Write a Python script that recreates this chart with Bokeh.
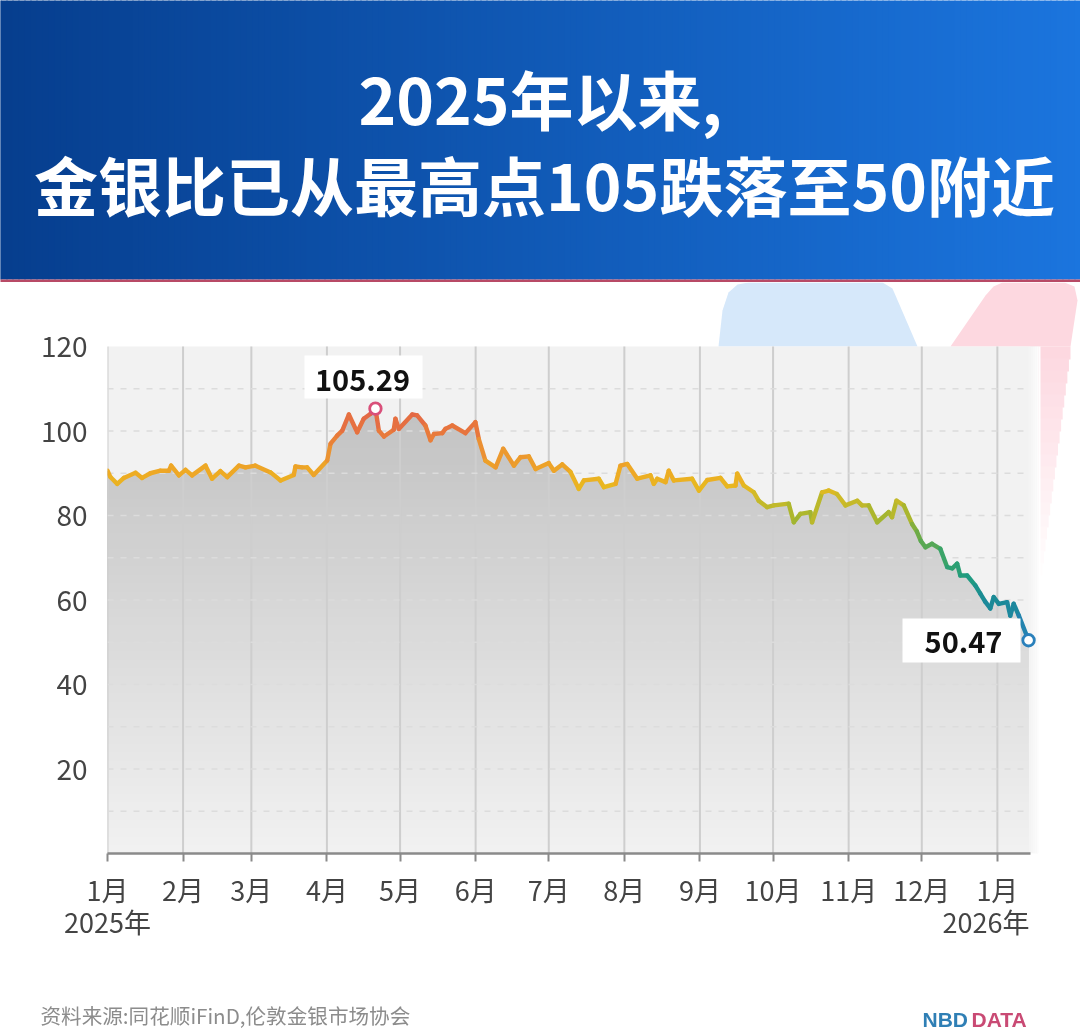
from bokeh.plotting import figure
from bokeh.models import FixedTicker, Range1d
from bokeh.embed import file_html
from bokeh.resources import INLINE

FONT = "Noto Sans CJK SC"

# ---------- data ----------
month_days = [0, 31, 59, 90, 120, 151, 181, 212, 243, 273, 304, 334, 365]
month_labels = ["1月", "2月", "3月", "4月", "5月", "6月", "7月", "8月", "9月", "10月", "11月", "12月", "1月"]
y_ticks = [20, 40, 60, 80, 100, 120]
y_dashes = [10, 20, 30, 40, 50, 60, 70, 80, 90, 100, 110]

days = [0, 1.2, 4, 6.7, 11.5, 14.2, 17.6, 21.7, 25.2, 26.1, 29.3, 32, 34.7, 40.2, 42.9, 46.3, 49.1,
        53.9, 56.6, 60.7, 66.9, 71, 76.4, 77.1, 79.8, 81.9, 84.6, 90.1, 91.5, 94.2, 96.3, 99, 102.4,
        105.1, 107.9, 109.9, 111.3, 113.4, 117.4, 118.1, 119.5, 125, 127, 130.4, 132.5, 133.9, 137.3,
        138.6, 141.4, 146.8, 150.9, 152.3, 155, 159.2, 162.3, 166.7, 169.4, 172.8, 175.6, 181, 183.1,
        186.5, 189.9, 193.3, 195.4, 201.5, 203.6, 208.4, 210.4, 213.2, 217.3, 222.7, 224.1, 225.5,
        228.9, 230.2, 232.3, 239.8, 242.6, 246, 251.4, 254.2, 257.6, 258.3, 261, 265.1, 267.1, 270.5,
        273.3, 279.4, 281.5, 284.2, 288.3, 289, 293.1, 295.8, 299.2, 302.7, 307.5, 309.5, 312.2, 315.7,
        320.4, 321.8, 323.6, 326.6, 330, 332, 333.6, 335.5, 338.2, 341.6, 344.4, 346.5, 348.5, 349.8,
        352.6, 356, 358, 360, 362.1, 363.5, 365.6, 369, 370.3, 371.7, 373.8, 377.8]
ratio = [90.6, 89.1, 87.5, 88.9, 90.1, 88.9, 90.0, 90.6, 90.6, 91.8, 89.5, 90.8, 89.5, 91.8, 88.7, 90.5, 89.1,
         91.8, 91.4, 91.8, 90.2, 88.3, 89.6, 91.6, 91.4, 91.4, 89.6, 93.0, 97.0, 98.9, 100.1, 103.9, 99.7,
         102.9, 104.1, 105.29, 100.1, 98.7, 100.3, 102.9, 100.5, 103.9, 103.7, 101.3, 97.8, 99.3, 99.5,
         100.5, 101.3, 99.5, 102.1, 98.1, 93.0, 91.4, 95.8, 91.8, 93.8, 94.0, 91.0, 92.4, 90.6,
         92.1, 90.3, 86.3, 88.3, 88.7, 86.7, 87.5, 91.8, 92.2, 88.7, 89.5, 87.5, 88.7,
         87.9, 90.6, 88.3, 88.7, 85.9, 88.4, 88.9, 86.9, 87.1, 89.9, 87.1, 85.5, 83.5, 82.0,
         82.4, 82.8, 78.4, 80.4, 80.8, 78.4, 85.5, 85.9, 85.1, 82.4, 83.5, 82.4, 82.4, 78.4,
         80.8, 79.6, 83.5, 82.4, 78.0, 76.2, 74.0, 72.5, 73.3, 72.1, 67.8, 67.5, 68.6, 65.8,
         65.8, 63.4, 61.5, 59.6, 58.0, 60.7, 59.1, 59.5, 56.3, 59.1, 56.3, 50.47]
peak_label = "105.29"
last_label = "50.47"
title_lines = ["2025年以来,", "金银比已从最高点105跌落至50附近"]
source_text = "资料来源:同花顺iFinD,伦敦金银市场协会"

# value -> line colour stops
stops = [(50, (42, 128, 187)), (55, (32, 133, 168)), (60, (26, 138, 149)), (65, (31, 155, 128)),
         (70, (58, 163, 104)), (75, (108, 171, 72)), (80, (168, 182, 46)), (84, (207, 186, 40)),
         (87, (232, 184, 32)), (90, (238, 170, 36)), (95, (235, 147, 50)), (100, (232, 119, 60)),
         (106, (224, 96, 76))]


def val_colour(v):
    if v <= stops[0][0]:
        return "#%02x%02x%02x" % stops[0][1]
    for (a, ca), (b, cb) in zip(stops, stops[1:]):
        if a <= v <= b:
            t = (v - a) / (b - a)
            return "#%02x%02x%02x" % tuple(round(ca[i] + t * (cb[i] - ca[i])) for i in range(3))
    return "#%02x%02x%02x" % stops[-1][1]


def mix(c1, c2, t):
    return "#%02x%02x%02x" % tuple(round(c1[i] + t * (c2[i] - c1[i])) for i in range(3))


def placed(top):
    return {"position": "fixed", "left": "0", "top": f"{top}px"}


# ---------- header ----------
W = 1080
header = figure(width=W, height=282, toolbar_location=None, output_backend="svg",
                x_range=Range1d(0, W), y_range=Range1d(282, 0), min_border=0,
                x_axis_type=None, y_axis_type=None, outline_line_color=None, styles=placed(0))
header.grid.visible = False
strip = 6
xs_l = list(range(-6, W + 6, strip))
header.quad(left=xs_l, right=[x + strip + 1 for x in xs_l], top=-6, bottom=279,
            fill_color=[mix((6, 62, 142), (27, 117, 222), max(x, 0) / W) for x in xs_l], line_color=None)
header.quad(left=-6, right=W + 6, top=279, bottom=288, fill_color="#b84a66", line_color=None)
header.text(x=[540, 544], y=[96, 182], text=title_lines, text_color="white",
            text_font={"value": FONT}, text_font_style="bold", text_font_size="64px",
            text_align="center", text_baseline="middle")

# ---------- chart ----------
PX_DAY = 2.438
PX_VAL = 4.225
X0, Y0 = 107, 853
CHART_BOTTOM = 915
FOOTER_TOP = 895


def dx(px):
    return (px - X0) / PX_DAY


def dy(py):
    return (Y0 - py) / PX_VAL


p = figure(width=W, height=CHART_BOTTOM - 282, toolbar_location=None, output_backend="svg",
           x_range=Range1d(0, dx(W)), y_range=Range1d(0, dy(282)),
           min_border_left=X0, min_border_right=0, min_border_top=0, min_border_bottom=CHART_BOTTOM - Y0,
           outline_line_color=None, background_fill_color="white", border_fill_color=None, styles=placed(282))
p.grid.visible = False

# decorative shapes behind the panel
p.patch(x=[dx(v) for v in [718, 722, 728, 737, 748, 882, 892, 917]],
        y=[dy(v) for v in [346, 310, 292, 284, 282, 282, 288, 346]],
        fill_color="#d6e8fa", line_color=None, level="image")
p.patch(x=[dx(v) for v in [950, 985, 993, 1002, 1064, 1074, 1077, 1070]],
        y=[dy(v) for v in [346, 295, 286, 282, 282, 286, 300, 346]],
        fill_color="#fdd8e0", line_color=None, level="image")
for k, py in enumerate(range(346, 575, 12)):
    right = 1070 - (py - 346) * 0.13
    p.quad(left=dx(1030), right=dx(right), top=dy(py), bottom=dy(py + 13),
           fill_color=mix((253, 216, 224), (255, 255, 255), k / 19), line_color=None, level="image")

# panel
p.quad(left=0, right=dx(1038), top=120, bottom=0, fill_color="#f2f2f2", line_color=None, level="image")

# area, painted as shrinking layers to give the vertical fade
for lv in range(106, 0, -2):
    p.varea(x=days, y1=0, y2=[min(v, lv) for v in ratio],
            fill_color=mix((242, 242, 242), (194, 194, 194), lv / 106), level="image")

# grid rules above the area, limited to the panel
p.segment(x0=month_days, x1=month_days, y0=0, y1=120, line_color="#cecece", line_width=2, level="underlay")
p.segment(x0=0, x1=dx(1028), y0=y_dashes, y1=y_dashes, line_color="#dcdcdc", line_width=1.5,
          line_dash="6 7", level="underlay")

# panel's right edge fades out
for k, px in enumerate(range(1028, 1040, 2)):
    p.quad(left=dx(px), right=dx(px + 2), top=120, bottom=0, fill_color="white",
           fill_alpha=0.15 + k * 0.16, line_color=None, level="underlay")

# coloured line
seg_x = [[a, b] for a, b in zip(days, days[1:])]
seg_y = [[a, b] for a, b in zip(ratio, ratio[1:])]
seg_c = [val_colour((a + b) / 2) for a, b in zip(ratio, ratio[1:])]
p.multi_line(xs=seg_x, ys=seg_y, line_color=seg_c, line_width=4.4, line_cap="round", line_join="round")

# axes
ax = p.xaxis[0]
ax.ticker = FixedTicker(ticks=month_days)
ax.major_label_overrides = {d: t for d, t in zip(month_days, month_labels)}
ax.major_label_text_font = FONT
ax.major_label_text_font_size = "27px"
ax.major_label_text_color = "#444444"
ax.major_label_standoff = 8
ax.axis_line_color = "#8a8a8a"
ax.axis_line_width = 2.5
ax.major_tick_line_color = "#8a8a8a"
ax.major_tick_line_width = 2
ax.major_tick_out = 8
ax.major_tick_in = 0
ax.minor_tick_line_color = None
ax.bounds = (0, days[-1] + 0.8)

ay = p.yaxis[0]
ay.ticker = FixedTicker(ticks=y_ticks)
ay.major_label_text_font = FONT
ay.major_label_text_font_size = "28px"
ay.major_label_text_color = "#444444"
ay.major_label_standoff = 14
ay.axis_line_color = None
ay.major_tick_line_color = None
ay.minor_tick_line_color = None

# callouts
i_peak = ratio.index(105.29)
i_last = len(ratio) - 1
p.quad(left=dx(304), right=dx(422), top=dy(355), bottom=dy(398), fill_color="white", line_color=None)
p.quad(left=dx(902), right=dx(1020), top=dy(618), bottom=dy(662), fill_color="white", line_color=None)
p.text(x=[dx(362)], y=[dy(379)], text=[peak_label], text_color="#111111", text_font={"value": FONT},
       text_font_style="bold", text_font_size="29px", text_align="center", text_baseline="middle")
p.text(x=[dx(963)], y=[dy(641)], text=[last_label], text_color="#111111", text_font={"value": FONT},
       text_font_style="bold", text_font_size="29px", text_align="center", text_baseline="middle")
p.scatter(x=[days[i_peak]], y=[ratio[i_peak]], size=11.5, marker="circle", fill_color="white",
          line_color="#d9507a", line_width=2.8)
p.scatter(x=[days[i_last]], y=[ratio[i_last]], size=11.5, marker="circle", fill_color="white",
          line_color="#2a80bb", line_width=2.8)

# ---------- footer (transparent, sits over the chart's lower edge) ----------
footer = figure(width=W, height=1034 - FOOTER_TOP, toolbar_location=None, output_backend="svg",
                x_range=Range1d(0, W), y_range=Range1d(1034, FOOTER_TOP), min_border=0,
                x_axis_type=None, y_axis_type=None, outline_line_color=None,
                background_fill_color=None, border_fill_color=None, styles=placed(FOOTER_TOP))
footer.grid.visible = False
footer.text(x=[107], y=[921], text=["2025年"], text_color="#444444", text_font={"value": FONT},
            text_font_size="27px", text_align="center", text_baseline="middle")
footer.text(x=[1029], y=[921], text=["2026年"], text_color="#444444", text_font={"value": FONT},
            text_font_size="27px", text_align="right", text_baseline="middle")
footer.text(x=[40], y=[1014], text=[source_text], text_color="#8c8c8c", text_font={"value": FONT},
            text_font_size="20.6px", text_align="left", text_baseline="middle")
footer.text(x=[922], y=[1019], text=["NBD"], text_color="#2f7fb5", text_font={"value": "Liberation Sans"},
            text_font_style="bold", text_font_size="21px", text_align="left", text_baseline="middle")
footer.text(x=[971], y=[1019], text=["DATA"], text_color="#c94a74", text_font={"value": "Liberation Sans"},
            text_font_style="bold", text_font_size="21px", text_align="left", text_baseline="middle")

roots = [header, p, footer]
open("out.html", "w").write(file_html(roots, INLINE))
